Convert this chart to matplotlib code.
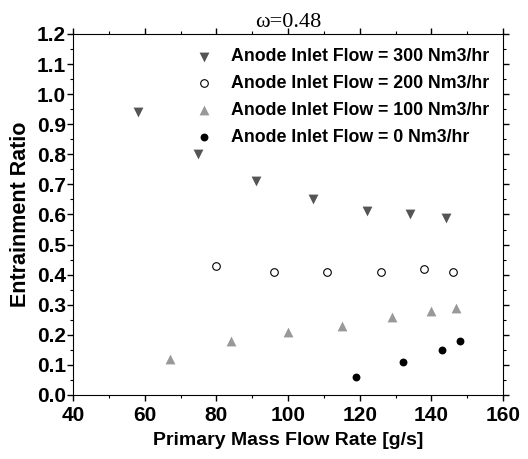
import matplotlib
matplotlib.use("Agg")
import matplotlib.pyplot as plt
from matplotlib.ticker import MultipleLocator

# data
x300 = [58, 75, 91, 107, 122, 134, 144]
y300 = [0.94, 0.80, 0.71, 0.65, 0.61, 0.60, 0.59]
x200 = [80, 96, 111, 126, 138, 146]
y200 = [0.43, 0.41, 0.41, 0.41, 0.42, 0.41]
x100 = [67, 84, 100, 115, 129, 140, 147]
y100 = [0.12, 0.18, 0.21, 0.23, 0.26, 0.28, 0.29]
x0 = [119, 132, 143, 148]
y0 = [0.06, 0.11, 0.15, 0.18]

plt.rcParams['font.family'] = ['Liberation Sans', 'DejaVu Sans']
plt.rcParams['font.weight'] = 'bold'

fig = plt.figure(figsize=(5.28, 4.59), dpi=100)
ax = fig.add_axes([73/528, 1-395/459, 430/528, 361/459])

ax.scatter(x300, y300, marker='v', s=50, color='#555555', linewidths=0,
           label='Anode Inlet Flow = 300 Nm3/hr')
ax.scatter(x200, y200, marker='o', s=30, facecolors='white', edgecolors='black',
           linewidths=0.8, label='Anode Inlet Flow = 200 Nm3/hr')
ax.scatter(x100, y100, marker='^', s=50, color='#999999', linewidths=0,
           label='Anode Inlet Flow = 100 Nm3/hr')
ax.scatter(x0, y0, marker='o', s=32, color='black', linewidths=0,
           label='Anode Inlet Flow = 0 Nm3/hr')

ax.set_xlim(40, 160)
ax.set_ylim(0, 1.2)
ax.xaxis.set_major_locator(MultipleLocator(20))
ax.xaxis.set_minor_locator(MultipleLocator(10))
ax.yaxis.set_major_locator(MultipleLocator(0.1))
ax.yaxis.set_minor_locator(MultipleLocator(0.05))
ax.yaxis.set_major_formatter(plt.FormatStrFormatter('%.1f'))

ax.tick_params(which='major', direction='out', length=4, width=1, labelsize=15, pad=1)
ax.tick_params(axis='x', which='major', pad=4)
ax.tick_params(which='minor', direction='out', length=2.5, width=0.8)
ax.tick_params(which='both', top=True, right=True)
for lbl in ax.get_xticklabels() + ax.get_yticklabels():
    lbl.set_fontweight('bold')

ax.set_xlabel('Primary Mass Flow Rate [g/s]', fontsize=14, fontweight='bold', labelpad=5)
ax.set_ylabel('Entrainment Ratio', fontsize=15.5, fontweight='bold', labelpad=4)
ax.set_title('\u03c9=0.48', fontsize=16, family=['Liberation Serif', 'DejaVu Serif'],
             fontweight='normal', pad=5)

leg = ax.legend(loc='upper right', frameon=False, fontsize=12.8, handletextpad=0.5,
                labelspacing=0.55, borderaxespad=0.4, scatterpoints=1)

fig.savefig('out.png', dpi=100)
